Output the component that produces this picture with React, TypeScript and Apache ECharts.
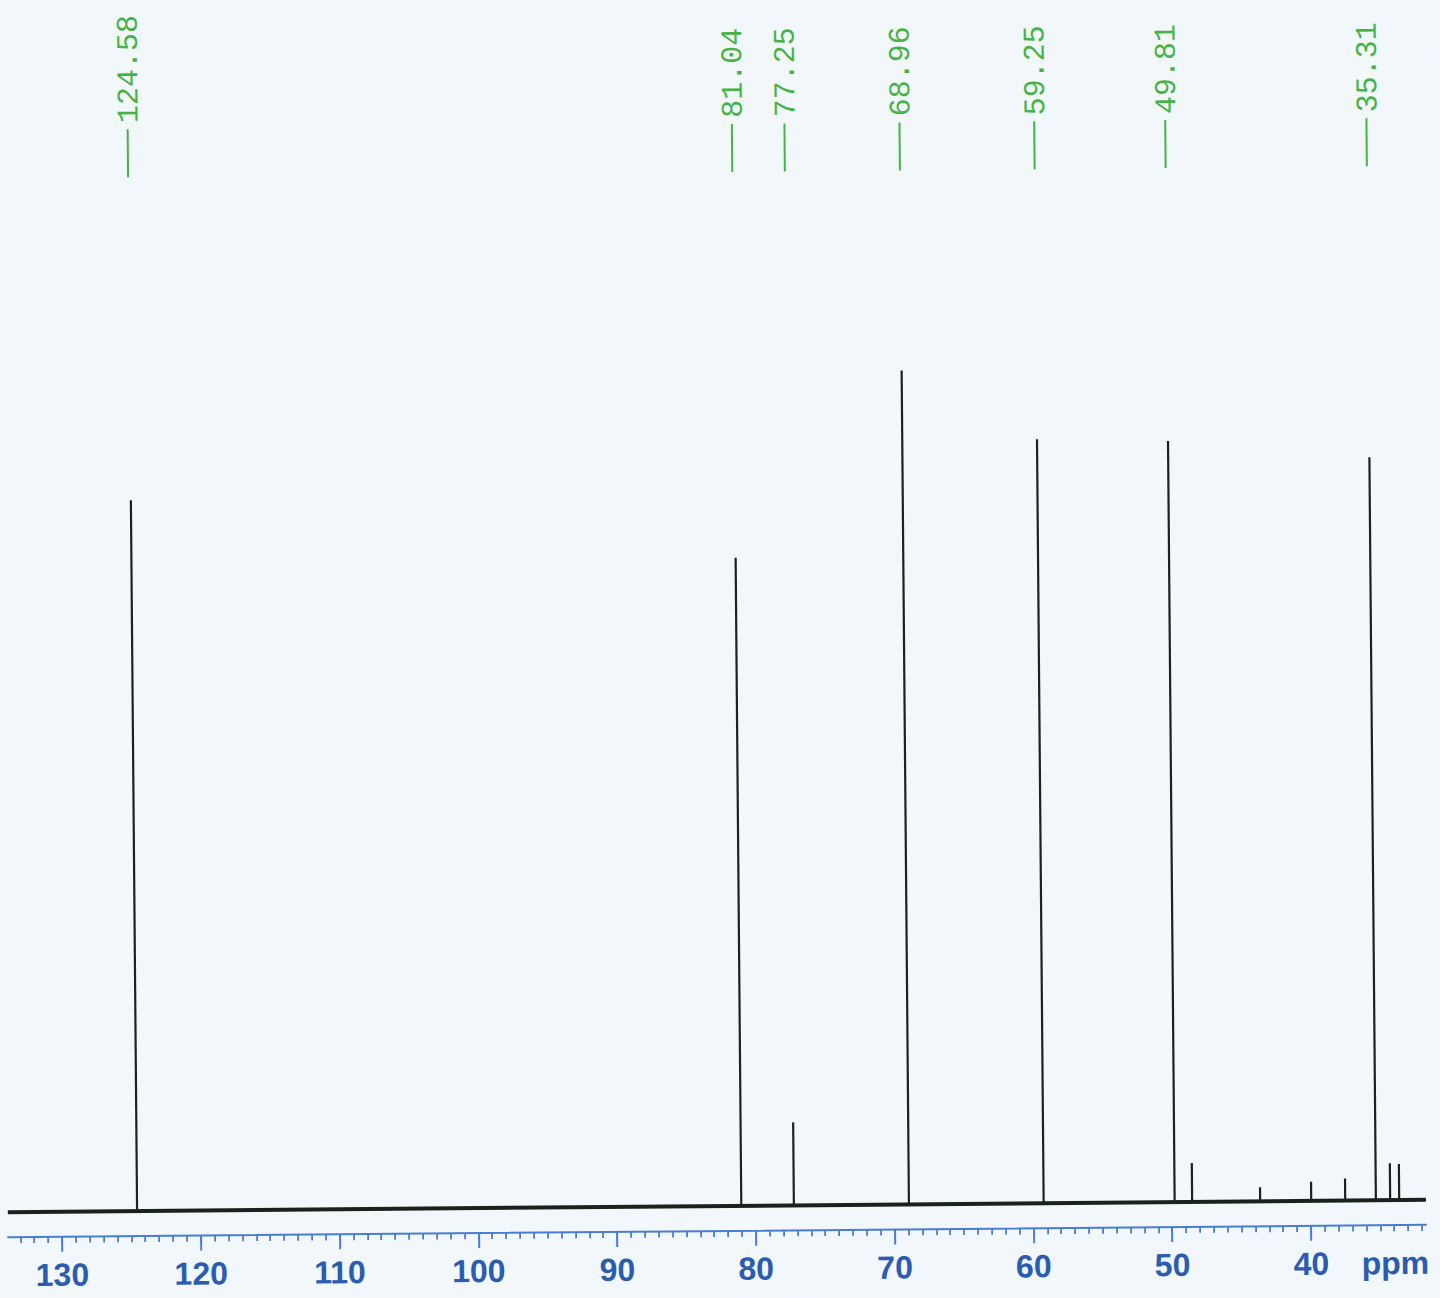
import React, { useEffect, useRef } from "react";
import * as echarts from "echarts";

// ---- data (13C NMR spectrum) ----
const ppmMin = 31.71;
const ppmMax = 133.89;
const baselineLevel = 25; // intensity of the flat baseline
const peakPpm = [124.58, 81.04, 77.25, 68.96, 59.25, 49.81, 48.55, 43.65, 39.97, 37.52, 35.31, 34.28, 33.63];
const peakHeight = [711, 648, 83, 834, 764, 761, 39, 14, 19, 22, 743, 37, 36];
const labelPpm = [124.58, 81.04, 77.25, 68.96, 59.25, 49.81, 35.31];
const labelText = ["124.58", "81.04", "77.25", "68.96", "59.25", "49.81", "35.31"];
const majorTicks = [130, 120, 110, 100, 90, 80, 70, 60, 50, 40];
const minorTicks: number[] = [];
for (let v = 32; v <= 133; v++) minorTicks.push(v);
const unitLabelPos = 33.95; // where "ppm" sits on the axis
const unitLabel = "ppm";

// ---- style ----
const BG = "#f2f7fc";
const SPEC = "#18231d";
const GREEN = "#45b445";
const AXIS_BLUE = "#4a7dd0";
const LABEL_BLUE = "#2b5caf";
const Y_MAX = 1231;
const LABEL_LINE_LOW = 1059;
const LABEL_LINE_HIGH = 1107;
const LABEL_TEXT_START = 1113;

function buildSpectrum(): number[][] {
  const idx = peakPpm.map((_, i) => i).sort((a, b) => peakPpm[b] - peakPpm[a]);
  const pts: number[][] = [[ppmMax, baselineLevel]];
  idx.forEach((i) => {
    const p = peakPpm[i];
    pts.push([p, baselineLevel], [p, baselineLevel + peakHeight[i]], [p, baselineLevel]);
  });
  pts.push([ppmMin, baselineLevel]);
  return pts;
}

export default function App() {
  const ref = useRef<HTMLDivElement>(null);
  useEffect(() => {
    document.body.style.margin = "0";
    document.body.style.background = BG;
    const chart = echarts.init(ref.current!, undefined, { renderer: "svg" });
    const labelValues = [...majorTicks, unitLabelPos];
    chart.setOption({
      animation: false,
      backgroundColor: BG,
      grid: { left: 3, right: 19, top: 0, bottom: 67, containLabel: false, outerBoundsMode: "none" },
      xAxis: [
        {
          type: "value",
          inverse: true,
          min: ppmMin,
          max: ppmMax,
          position: "bottom",
          splitLine: { show: false },
          axisLine: { show: true, lineStyle: { color: AXIS_BLUE, width: 2 } },
          axisTick: { show: true, customValues: majorTicks, length: 15, lineStyle: { color: AXIS_BLUE, width: 2 } },
          axisLabel: {
            show: true,
            customValues: labelValues,
            margin: 22,
            color: LABEL_BLUE,
            fontSize: 32,
            fontWeight: "bold",
            fontFamily: '"Liberation Sans", Arial, sans-serif',
            formatter: (v: number) => (Math.abs(v - unitLabelPos) < 0.01 ? unitLabel : String(Math.round(v))),
          },
        },
        {
          type: "value",
          inverse: true,
          min: ppmMin,
          max: ppmMax,
          position: "bottom",
          splitLine: { show: false },
          axisLine: { show: false },
          axisLabel: { show: false },
          axisTick: { show: true, customValues: minorTicks, length: 6, lineStyle: { color: AXIS_BLUE, width: 1.8 } },
        },
      ],
      yAxis: { type: "value", min: 0, max: Y_MAX, show: false },
      series: [
        {
          type: "line",
          name: "baseline",
          data: [[ppmMax, baselineLevel], [ppmMin, baselineLevel]],
          showSymbol: false,
          lineStyle: { color: SPEC, width: 4 },
          silent: true,
          z: 2,
        },
        {
          type: "line",
          name: "spectrum",
          data: buildSpectrum(),
          showSymbol: false,
          lineStyle: { color: SPEC, width: 2.2 },
          silent: true,
          z: 3,
        },
        {
          type: "custom",
          name: "peak labels",
          data: labelPpm.map((p) => [p]),
          silent: true,
          z: 4,
          renderItem: (params: any, api: any) => {
            const p = api.value(0);
            const x = api.coord([p, 0])[0];
            const yLow = api.coord([p, LABEL_LINE_LOW])[1];
            const yHigh = api.coord([p, LABEL_LINE_HIGH])[1];
            const yText = api.coord([p, LABEL_TEXT_START])[1];
            return {
              type: "group",
              children: [
                {
                  type: "line",
                  shape: { x1: x, y1: yHigh, x2: x, y2: yLow },
                  style: { stroke: GREEN, lineWidth: 2 },
                },
                {
                  type: "text",
                  x: x + 2,
                  y: yText,
                  rotation: Math.PI / 2,
                  style: {
                    text: labelText[params.dataIndex],
                    fill: GREEN,
                    font: '30px "Liberation Mono", monospace',
                    align: "left",
                    verticalAlign: "middle",
                  },
                },
              ],
            };
          },
        },
      ],
    });
    return () => chart.dispose();
  }, []);
  return (
    <div style={{ position: "absolute", left: 0, top: 0, width: 1440, height: 1298, overflow: "hidden", background: BG }}>
      <div
        ref={ref}
        style={{ width: 1440, height: 1298, transform: "rotate(-0.5deg)", transformOrigin: "720px 649px" }}
      />
    </div>
  );
}
